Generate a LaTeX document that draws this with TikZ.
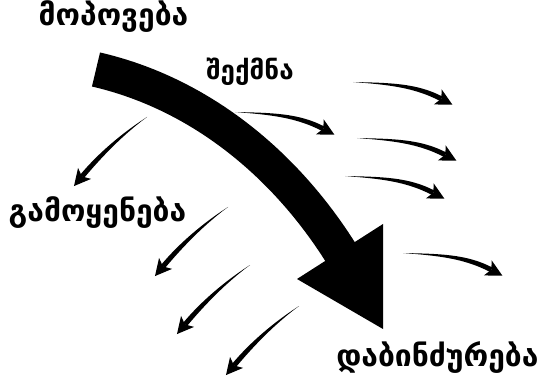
\documentclass[tikz,border=0pt]{standalone}
\usepackage{fontspec}
\newfontfamily\geo{DejaVu Sans}
\usetikzlibrary{calc}
\tikzset{
  lbl/.style={font=\geo\bfseries\fontsize{30}{32}\selectfont, inner sep=0pt, anchor=base, text=black},
  lblsmall/.style={lbl, font=\geo\bfseries\fontsize{26}{28}\selectfont},
}
\newcommand{\smallarr}[5]{%
  \coordinate (#5s) at #1;
  \coordinate (#5a) at ($(#5s)+#2$);
  \coordinate (#5b) at ($(#5s)+#3$);
  \coordinate (#5e) at ($(#5s)+#4$);
  \coordinate (#5t) at ($(#5e)!-12.5pt!(#5b)$);
  \coordinate (#5k) at ($(#5e)!4pt!(#5b)$);
  \coordinate (#5p) at ($(#5e)!2.5pt!90:(#5b)$);
  \coordinate (#5q) at ($(#5e)!2.5pt!-90:(#5b)$);
  \fill (#5s) .. controls ($(#5a)+0.4*(#5p)-0.4*(#5e)$) and ($(#5b)+(#5p)-(#5e)$) .. (#5p)
        -- (#5q) .. controls ($(#5b)+(#5q)-(#5e)$) and ($(#5a)+0.4*(#5q)-0.4*(#5e)$) .. (#5s) -- cycle;
  \fill (#5t) -- ($(#5k)!8.5pt!90:(#5b)$) -- (#5e) -- ($(#5k)!8.5pt!-90:(#5b)$) -- cycle;
}
\begin{document}
\begin{tikzpicture}[x=1pt,y=-1pt]
\useasboundingbox (0,0) rectangle (544,377);
\fill[white] (0,0) rectangle (544,377);
% big arrow
\coordinate (tail) at (96,69.5);
\coordinate (c1) at (198,93);
\coordinate (c2) at (284,162);
\coordinate (base) at (340,251.5);
\coordinate (h1) at (383,224);
\coordinate (h2) at (297,279);
\coordinate (tip) at (383,329);
\draw[line width=35pt, line cap=butt, shorten >=-3pt] (tail) .. controls (c1) and (c2) .. (base);
\fill (h1) -- (h2) -- (tip) -- cycle;
% right-going small arrows
\smallarr{(353,82)}{(35,1.8)}{(62,3)}{(88.3,16.8)}{ra}
\smallarr{(357,138)}{(35,1.8)}{(62,3)}{(88.3,16.8)}{rb}
\smallarr{(345,176)}{(35,1.8)}{(62,3)}{(88.3,16.8)}{rc}
\smallarr{(235,112)}{(35,1.8)}{(62,3)}{(88.3,16.8)}{rd}
\smallarr{(403,253)}{(35,1.8)}{(62,3)}{(88.3,16.8)}{re}
% left-down small arrows
\smallarr{(147,117)}{(-24.6,17)}{(-47,38)}{(-65,59.5)}{la}
\smallarr{(228,207)}{(-24.6,17)}{(-47,38)}{(-65,59.5)}{lb}
\smallarr{(250,265)}{(-24.6,17)}{(-47,38)}{(-65,59.5)}{lc}
\smallarr{(299,306)}{(-24.6,17)}{(-47,38)}{(-65,59.5)}{ld}
% labels
\node[lbl] (t1) at (113.5,26) {მოპოვება};
\node[lblsmall] (t2) at (250,80) {შექმნა};
\node[lbl] (t3) at (97.5,222) {გამოყენება};
\node[lbl] (t4) at (437.5,366) {დაბინძურება};
\end{tikzpicture}
\end{document}
